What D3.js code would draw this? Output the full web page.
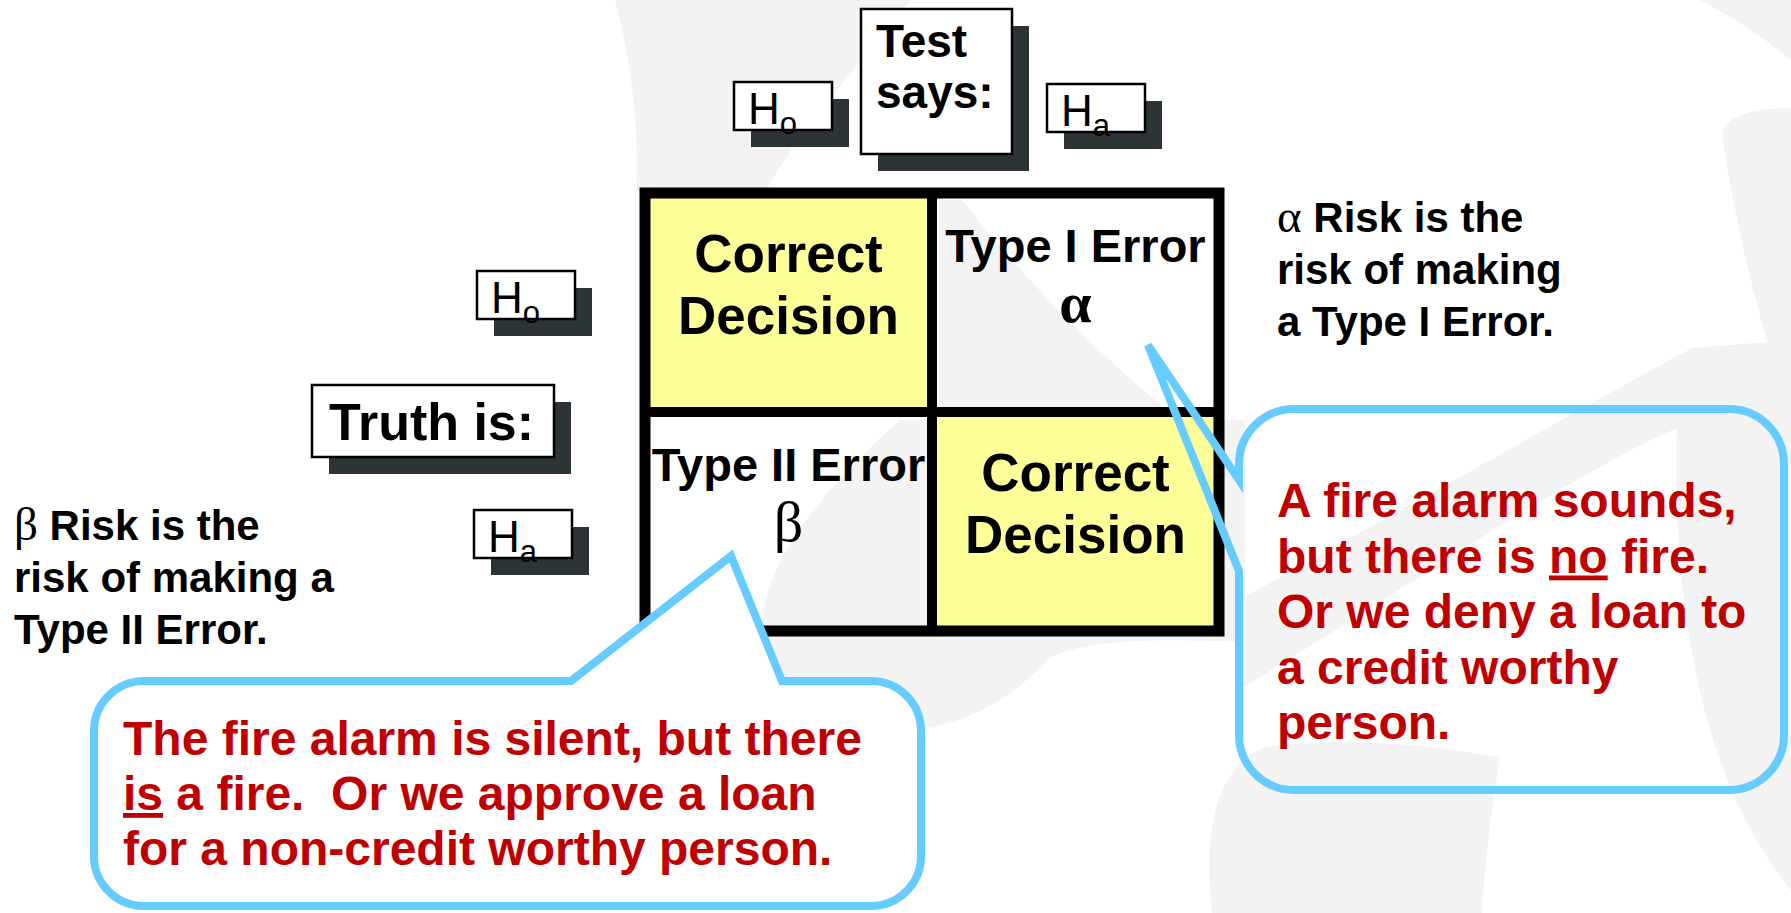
<!DOCTYPE html>
<html><head><meta charset="utf-8">
<script src="https://cdn.jsdelivr.net/npm/d3@7"></script>
<style>html,body{margin:0;padding:0;background:#fff;overflow:hidden} text{white-space:pre}</style>
</head><body>
<svg id="chart" width="1791" height="913"></svg>
<script>
// ---- data ----
const testSays = ["Ho", "Ha"];          // columns: what the test says
const truthIs = ["Ho", "Ha"];           // rows: what the truth is
const cellLabels = [
  ["Correct", "Decision"], ["Type I Error", "α"],
  ["Type II Error", "β"], ["Correct", "Decision"]
];
const cellCorrect = [true, false, false, true];
const alphaNote = ["α Risk is the", "risk of making", "a Type I Error."];
const betaNote = ["β Risk is the", "risk of making a", "Type II Error."];
const typeOneExample = ["A fire alarm sounds,", "but there is |no| fire.", "Or we deny a loan to", "a credit worthy", "person."];
const typeTwoExample = ["The fire alarm is silent, but there", "|is| a fire.  Or we approve a loan", "for a non-credit worthy person."];

const svg = d3.select("#chart");
const FONT = "'Liberation Sans', Arial, sans-serif";
const SERIF = "'Liberation Serif', 'Times New Roman', serif";

// ---- background watermark shapes ----
const bg = svg.append("g").attr("fill", "#f3f3f3");
bg.append("path").attr("d", "M615,0 L910,0 C865,60 805,120 765,192 L636,192 C640,120 630,60 615,0 Z");
bg.append("path").attr("d", "M1700,0 L1791,0 L1791,60 C1760,35 1730,15 1700,0 Z");
bg.append("path").attr("d", "M1791,108 C1750,108 1718,118 1723,140 C1738,240 1762,330 1791,420 Z");
bg.append("path").attr("d", "M1692,348 C1560,420 1420,500 1239,600 L1239,690 C1420,580 1560,480 1677,428 C1672,600 1700,780 1791,890 L1791,340 Z");
bg.append("path").attr("d", "M1212,913 C1204,830 1214,772 1262,748 C1340,735 1430,745 1500,757 C1490,820 1484,870 1482,913 Z");
bg.append("path").attr("d", "M900,420 C800,510 758,580 762,640 C768,690 800,716 862,728 C950,740 1010,702 1050,657 C1100,636 1180,640 1245,642 L1245,420 Z");
bg.append("path").attr("d", "M939,200 L962,200 C1005,255 1080,340 1170,412 L939,412 Z");

// ---- grid ----
const x = d3.scaleBand().domain(testSays).range([645, 1219]);
const y = d3.scaleBand().domain(truthIs).range([193, 631]);
const cells = [];
truthIs.forEach((t, i) => testSays.forEach((s, j) => {
  const k = i * 2 + j;
  cells.push({ truth: t, test: s, lines: cellLabels[k], correct: cellCorrect[k] });
}));

const grid = svg.append("g");
grid.selectAll("rect.cell").data(cells).join("rect")
  .attr("class", "cell")
  .attr("x", d => x(d.test)).attr("y", d => y(d.truth))
  .attr("width", x.bandwidth()).attr("height", y.bandwidth())
  .attr("fill", d => d.correct ? "#ffff99" : "none");
grid.append("rect")
  .attr("x", x.range()[0]).attr("y", y.range()[0])
  .attr("width", x.range()[1] - x.range()[0]).attr("height", y.range()[1] - y.range()[0])
  .attr("fill", "none").attr("stroke", "#000").attr("stroke-width", 11);
grid.append("line").attr("x1", x("Ha")).attr("x2", x("Ha"))
  .attr("y1", y.range()[0]).attr("y2", y.range()[1]).attr("stroke", "#000").attr("stroke-width", 10);
grid.append("line").attr("y1", y("Ha")).attr("y2", y("Ha"))
  .attr("x1", x.range()[0]).attr("x2", x.range()[1]).attr("stroke", "#000").attr("stroke-width", 10);

const cellText = grid.selectAll("g.ct").data(cells).join("g").attr("class", "ct")
  .attr("transform", d => `translate(${x(d.test) + x.bandwidth() / 2},${y(d.truth)})`);
cellText.each(function (d) {
  const g = d3.select(this);
  if (d.correct) {
    d.lines.forEach((l, i) => g.append("text").attr("y", 79 + i * 62)
      .attr("text-anchor", "middle").attr("font-family", FONT).attr("font-weight", "bold")
      .attr("font-size", 53).text(l));
  } else {
    g.append("text").attr("y", 69).attr("text-anchor", "middle").attr("font-family", FONT)
      .attr("font-weight", "bold").attr("font-size", 47).text(d.lines[0]);
    g.append("text").attr("y", 129).attr("text-anchor", "middle").attr("font-family", SERIF)
      .attr("font-weight", d.lines[1] === "α" ? "bold" : "normal")
      .attr("font-size", 58).text(d.lines[1]);
  }
});

// ---- labelled boxes with shadows ----
function shadowBox(bx, by, bw, bh) {
  const g = svg.append("g");
  g.append("rect").attr("x", bx + 17).attr("y", by + 17).attr("width", bw).attr("height", bh).attr("fill", "#2d3436");
  g.append("rect").attr("x", bx).attr("y", by).attr("width", bw).attr("height", bh)
    .attr("fill", "#fff").attr("stroke", "#000").attr("stroke-width", 2.5);
  return g;
}
function hypBox(bx, by, sub) {
  const g = shadowBox(bx, by, 98, 48);
  const t = g.append("text").attr("x", bx + 14).attr("y", by + 42).attr("font-family", FONT).attr("font-size", 44);
  t.append("tspan").text("H");
  t.append("tspan").attr("dy", 10).attr("font-size", 31).text(sub === "Ho" ? "o" : "a");
}
const tb = shadowBox(861, 9, 151, 145);
["Test", "says:"].forEach((l, i) => tb.append("text").attr("x", 876).attr("y", 57 + i * 51)
  .attr("font-family", FONT).attr("font-weight", "bold").attr("font-size", 46).text(l));
const trb = shadowBox(312, 385, 242, 72);
trb.append("text").attr("x", 329).attr("y", 440).attr("font-family", FONT).attr("font-weight", "bold")
  .attr("font-size", 52).text("Truth is:");
hypBox(734, 82, testSays[0]);
hypBox(1047, 84, testSays[1]);
hypBox(477, 271, truthIs[0]);
hypBox(474, 510, truthIs[1]);

// ---- notes ----
function note(lines, nx, ny, size, lh) {
  lines.forEach((l, i) => {
    const t = svg.append("text").attr("x", nx).attr("y", ny + i * lh).attr("font-family", FONT)
      .attr("font-weight", "bold").attr("font-size", size);
    if (l[0] === "α" || l[0] === "β") {
      t.append("tspan").attr("font-family", SERIF).attr("font-weight", "normal").attr("font-size", size * 1.12).text(l[0]);
      t.append("tspan").text(l.slice(1));
    } else t.text(l);
  });
}
note(alphaNote, 1277, 232, 42, 52);
note(betaNote, 14, 540, 42, 52);

// ---- callouts ----
function callout(path, fill, lines, tx, ty, size, lh) {
  svg.append("path").attr("d", path).attr("fill", fill).attr("stroke", "#66ccff")
    .attr("stroke-width", 8).attr("stroke-linejoin", "miter");
  lines.forEach((l, i) => {
    const t = svg.append("text").attr("x", tx).attr("y", ty + i * lh).attr("font-family", FONT)
      .attr("font-weight", "bold").attr("font-size", size).attr("fill", "#c00000");
    l.split("|").forEach((part, k) => {
      if (!part) return;
      const s = t.append("tspan").text(part);
      if (k % 2 === 1) s.attr("text-decoration", "underline");
    });
  });
}
(function () {
  const x0 = 1239, y0 = 409, x1 = 1784, y1 = 790, r = 55, ya = 480, yb = 571, tip = [1148, 345];
  const p = d3.path();
  p.moveTo(x0, ya); p.lineTo(x0, y0 + r); p.arcTo(x0, y0, x0 + r, y0, r);
  p.lineTo(x1 - r, y0); p.arcTo(x1, y0, x1, y0 + r, r);
  p.lineTo(x1, y1 - r); p.arcTo(x1, y1, x1 - r, y1, r);
  p.lineTo(x0 + r, y1); p.arcTo(x0, y1, x0, y1 - r, r);
  p.lineTo(x0, yb); p.lineTo(tip[0], tip[1]); p.closePath();
  callout(p.toString(), "none", typeOneExample, 1277, 517, 48, 55.5);
})();
(function () {
  const x0 = 94, y0 = 681, x1 = 921, y1 = 906, r = 50, xa = 571, xb = 782, tip = [731, 556];
  const p = d3.path();
  p.moveTo(xa, y0); p.lineTo(x0 + r, y0); p.arcTo(x0, y0, x0, y0 + r, r);
  p.lineTo(x0, y1 - r); p.arcTo(x0, y1, x0 + r, y1, r);
  p.lineTo(x1 - r, y1); p.arcTo(x1, y1, x1, y1 - r, r);
  p.lineTo(x1, y0 + r); p.arcTo(x1, y0, x1 - r, y0, r);
  p.lineTo(xb, y0); p.lineTo(tip[0], tip[1]); p.closePath();
  callout(p.toString(), "#fff", typeTwoExample, 123, 755, 48, 55);
})();
</script>
</body></html>
